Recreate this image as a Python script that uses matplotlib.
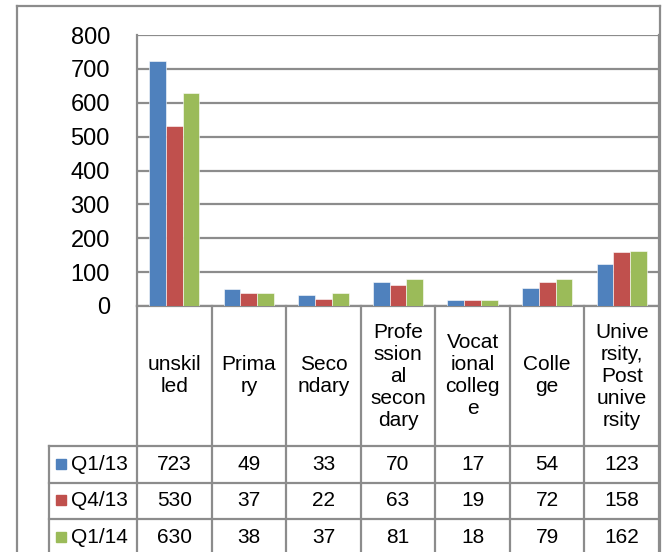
import matplotlib.pyplot as plt
import numpy as np

# -- Data --
categories = ["unskil\nled", "Prima\nry", "Seco\nndary", "Profe\nssion\nal\nsecon\ndary",
              "Vocat\nional\ncolleg\ne", "Colle\nge", "Unive\nrsity,\nPost\nunive\nrsity"]
series_names = ["Q1/13", "Q4/13", "Q1/14"]
q1_13 = [723, 49, 33, 70, 17, 54, 123]
q4_13 = [530, 37, 22, 63, 19, 72, 158]
q1_14 = [630, 38, 37, 81, 18, 79, 162]
colors = ["#4F81BD", "#C0504D", "#9BBB59"]

W, H = 664, 552
grid_col = "#8C8C8C"
plt.rcParams['font.family'] = ['Liberation Sans', 'DejaVu Sans']

fig = plt.figure(figsize=(W / 100, H / 100), dpi=100)

def fx(px):
    return px / W

def fy(py):
    return 1 - py / H

# plot area in pixel coords
left, right, top, bottom = 137, 659, 35, 306
ax = fig.add_axes([fx(left), fy(bottom), fx(right - left), (bottom - top) / H])

n = len(categories)
x = np.arange(n) + 0.5
bw = 0.225
for i, vals in enumerate([q1_13, q4_13, q1_14]):
    ax.bar(x + (i - 1) * bw, vals, width=bw, color=colors[i], edgecolor="white", linewidth=0.4, zorder=3)

ax.set_xlim(0, n)
ax.set_ylim(0, 800)
ax.set_yticks(range(0, 801, 100))
ax.yaxis.grid(True, color=grid_col, linewidth=1.6, zorder=0)
ax.set_xticks([])
ax.tick_params(axis='y', length=0, pad=19.5, labelsize=17)
for s in ax.spines.values():
    s.set_color(grid_col)
    s.set_linewidth(1.6)
ax.spines['top'].set_visible(False)

# -- data table drawn under the plot --
col_w = (right - left) / n
row_lines = [446, 483, 519, 556]
leg_left = 49

def line(x0, y0, x1, y1):
    fig.add_artist(plt.Line2D([fx(x0), fx(x1)], [fy(y0), fy(y1)], color=grid_col, linewidth=1.6))

# vertical column lines
for k in range(n + 1):
    line(left + k * col_w, bottom, left + k * col_w, H + 5)
line(leg_left, row_lines[0], leg_left, H + 5)
for ry in row_lines:
    line(leg_left, ry, right, ry)

# category labels
for k, cat in enumerate(categories):
    fig.text(fx(left + (k + 0.5) * col_w), fy((bottom + row_lines[0]) / 2), cat,
             ha='center', va='center', fontsize=15, linespacing=1.2, multialignment='center')

# rows of values with legend keys
for r, (name, vals) in enumerate(zip(series_names, [q1_13, q4_13, q1_14])):
    cy = (row_lines[r] + row_lines[r + 1]) / 2
    fig.add_artist(plt.Rectangle((fx(56), fy(cy + 4)), fx(10), 10 / H, color=colors[r]))
    fig.text(fx(71), fy(cy), name, ha='left', va='center', fontsize=15)
    for k, v in enumerate(vals):
        fig.text(fx(left + (k + 0.5) * col_w), fy(cy), str(v), ha='center', va='center', fontsize=15)

# outer chart border
line(17, 6, 17, H + 5)
line(17, 6, 660, 6)
line(660, 6, 660, H + 5)

fig.savefig("out.png", dpi=100)
